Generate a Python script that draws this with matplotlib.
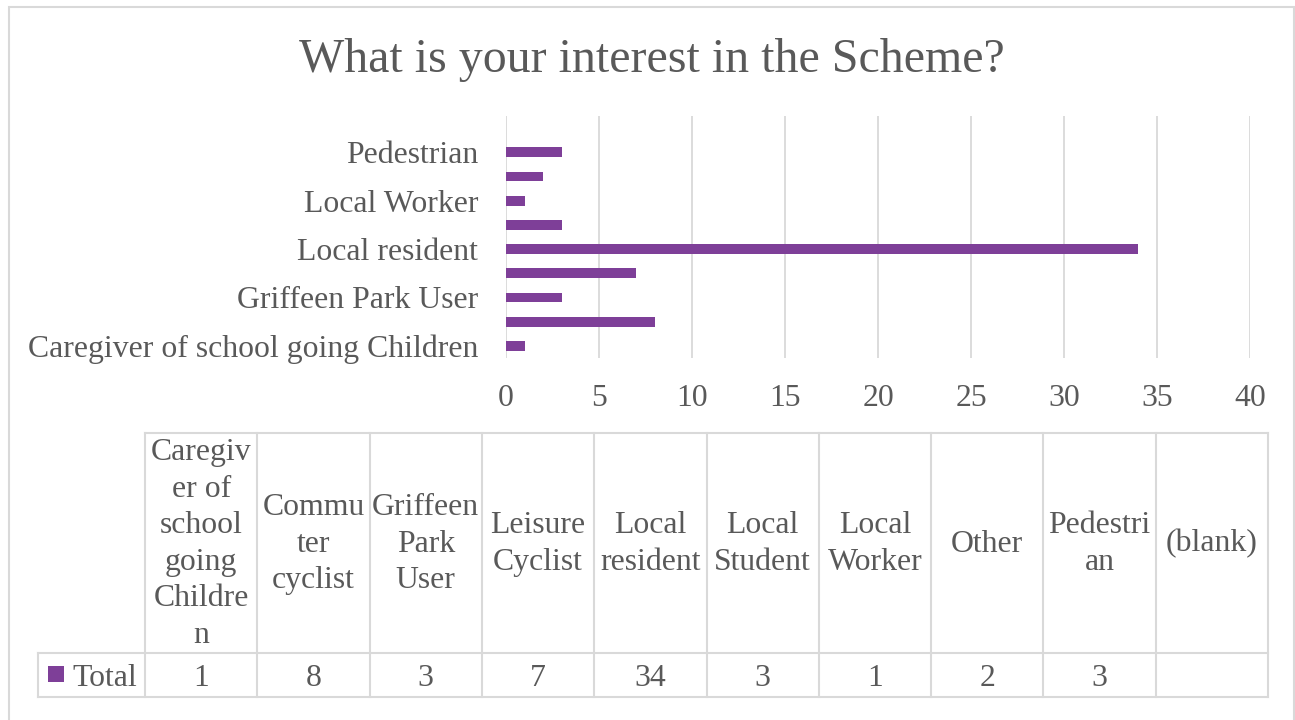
import numpy as np
import matplotlib
matplotlib.use("Agg")
import matplotlib.pyplot as plt
from matplotlib.patches import Rectangle
from matplotlib.lines import Line2D

# Survey responses: "What is your interest in the Scheme?"
categories = [
    "Caregiver of school going Children",
    "Commuter cyclist",
    "Griffeen Park User",
    "Leisure Cyclist",
    "Local resident",
    "Local Student",
    "Local Worker",
    "Other",
    "Pedestrian",
    "(blank)",
]
totals = [1, 8, 3, 7, 34, 3, 1, 2, 3, None]
header_labels = [
    "Caregiv\ner of\nschool\ngoing\nChildre\nn",
    "Commu\nter\ncyclist",
    "Griffeen\nPark\nUser",
    "Leisure\nCyclist",
    "Local\nresident",
    "Local\nStudent",
    "Local\nWorker",
    "Other",
    "Pedestri\nan",
    "(blank)",
]
x_ticks = [0, 5, 10, 15, 20, 25, 30, 35, 40]
series_name = "Total"
title = "What is your interest in the Scheme?"

BAR = "#7E3F98"
TEXT = "#595959"
GRID = "#D9D9D9"
FONT = "Liberation Serif"

W, H = 1295, 720
fig = plt.figure(figsize=(W / 100, H / 100), dpi=100)
fig.patch.set_facecolor("white")


def fx(px):
    return px / W


def fy(py):
    return 1 - py / H


# Outer chart border
fig.add_artist(Rectangle((fx(9), fy(730)), fx(1294) - fx(9), fy(7) - fy(730),
                         transform=fig.transFigure, fill=False,
                         edgecolor=GRID, linewidth=1.5))

fig.text(fx(652), fy(60), title, ha="center", va="center",
         fontsize=34.5, color=TEXT, family=FONT)

# Bar chart
ax = fig.add_axes([fx(506), fy(358), fx(1250) - fx(506), fy(116) - fy(358)])
vals = np.array([np.nan if v is None else v for v in totals], dtype=float)
pos = np.arange(len(categories))
has_val = ~np.isnan(vals)
ax.barh(pos[has_val], vals[has_val], height=0.41, color=BAR, zorder=3)
ax.set_xlim(0, 40)
ax.set_ylim(-0.5, len(categories) - 0.5)
ax.set_xticks(x_ticks)
ax.set_xticklabels([str(t) for t in x_ticks])
shown = pos[::2]
ax.set_yticks(shown)
ax.set_yticklabels([categories[i] for i in shown])
for s in ax.spines.values():
    s.set_visible(False)
ax.grid(axis="x", color=GRID, linewidth=1.3, zorder=0)
ax.tick_params(axis="both", length=0, labelsize=22.9, labelcolor=TEXT)
ax.tick_params(axis="y", pad=20)
ax.tick_params(axis="x", pad=19)
for lab in ax.get_xticklabels() + ax.get_yticklabels():
    lab.set_family(FONT)

# Data table below the chart
col_left = 145
col_w = 112.3
top, mid, bot = 433, 653, 697
left_cell = 38
ncol = len(categories)
right = col_left + col_w * ncol
row_y = (mid + bot) / 2 + 3


def hline(y, x0, x1):
    fig.add_artist(Line2D([fx(x0), fx(x1)], [fy(y), fy(y)],
                          transform=fig.transFigure, color=GRID, linewidth=1.5))


def vline(x, y0, y1):
    fig.add_artist(Line2D([fx(x), fx(x)], [fy(y0), fy(y1)],
                          transform=fig.transFigure, color=GRID, linewidth=1.5))


hline(top, col_left, right)
hline(mid, left_cell, right)
hline(bot, left_cell, right)
vline(left_cell, mid, bot)
for i in range(ncol + 1):
    vline(col_left + col_w * i, top, bot)

for i, (lab, v) in enumerate(zip(header_labels, totals)):
    cx = col_left + col_w * (i + 0.5)
    fig.text(fx(cx), fy((top + mid) / 2 + 1), lab, ha="center", va="center",
             multialignment="center", fontsize=22.9, color=TEXT, family=FONT,
             linespacing=1.34)
    if v is not None:
        fig.text(fx(cx), fy(row_y), str(v), ha="center",
                 va="center", fontsize=22.9, color=TEXT, family=FONT)

fig.add_artist(Rectangle((fx(48), fy(682)), fx(64) - fx(48), fy(666) - fy(682),
                         transform=fig.transFigure, facecolor=BAR,
                         edgecolor="none"))
fig.text(fx(72), fy(row_y), series_name, ha="left", va="center",
         fontsize=22.9, color=TEXT, family=FONT)

fig.savefig("out.png", dpi=100, facecolor="white")
